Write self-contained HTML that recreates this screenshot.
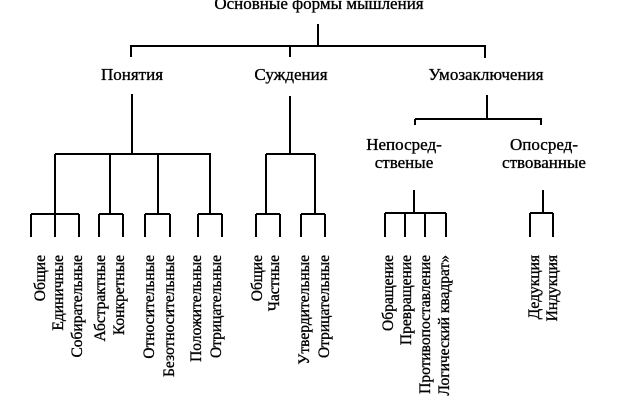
<!DOCTYPE html>
<html><head><meta charset="utf-8"><style>
html,body{margin:0;padding:0;background:#fff;}
svg{display:block;}
text{font-family:"Liberation Serif",serif;fill:#000;stroke:#000;stroke-width:0.35;}
</style></head><body>
<svg width="621" height="400" viewBox="0 0 621 400" xmlns="http://www.w3.org/2000/svg">
<g stroke="#000" stroke-width="2" fill="none">
<line x1="318" y1="24" x2="318" y2="46"/>
<line x1="130" y1="46" x2="486" y2="46"/>
<line x1="131" y1="46" x2="131" y2="57"/>
<line x1="290" y1="46" x2="290" y2="57"/>
<line x1="485" y1="46" x2="485" y2="58"/>
<line x1="132" y1="94" x2="132" y2="154"/>
<line x1="55" y1="154" x2="211" y2="154"/>
<line x1="55" y1="154" x2="55" y2="213"/>
<line x1="110" y1="154" x2="110" y2="213"/>
<line x1="158" y1="154" x2="158" y2="213"/>
<line x1="210" y1="154" x2="210" y2="213"/>
<line x1="31" y1="214" x2="79" y2="214"/>
<line x1="31" y1="214" x2="31" y2="237"/>
<line x1="55" y1="213" x2="55" y2="237"/>
<line x1="79" y1="214" x2="79" y2="237"/>
<line x1="99" y1="214" x2="123" y2="214"/>
<line x1="99" y1="214" x2="99" y2="237"/>
<line x1="123" y1="214" x2="123" y2="237"/>
<line x1="145" y1="214" x2="170" y2="214"/>
<line x1="145" y1="214" x2="145" y2="237"/>
<line x1="170" y1="214" x2="170" y2="237"/>
<line x1="198" y1="214" x2="222" y2="214"/>
<line x1="198" y1="214" x2="198" y2="237"/>
<line x1="222" y1="214" x2="222" y2="237"/>
<line x1="290" y1="96" x2="290" y2="154"/>
<line x1="266" y1="154" x2="315" y2="154"/>
<line x1="266" y1="154" x2="266" y2="213"/>
<line x1="315" y1="154" x2="315" y2="213"/>
<line x1="256" y1="214" x2="280" y2="214"/>
<line x1="256" y1="214" x2="256" y2="237"/>
<line x1="280" y1="214" x2="280" y2="237"/>
<line x1="301" y1="214" x2="325" y2="214"/>
<line x1="301" y1="214" x2="301" y2="237"/>
<line x1="325" y1="214" x2="325" y2="237"/>
<line x1="487" y1="95" x2="487" y2="119"/>
<line x1="415" y1="119" x2="542" y2="119"/>
<line x1="415" y1="119" x2="415" y2="125"/>
<line x1="541" y1="119" x2="541" y2="125"/>
<line x1="414" y1="190" x2="414" y2="213"/>
<line x1="385" y1="213" x2="446" y2="213"/>
<line x1="385" y1="213" x2="385" y2="237"/>
<line x1="405" y1="213" x2="405" y2="237"/>
<line x1="425" y1="213" x2="425" y2="237"/>
<line x1="446" y1="213" x2="446" y2="237"/>
<line x1="543" y1="190" x2="543" y2="213"/>
<line x1="530" y1="213" x2="553" y2="213"/>
<line x1="530" y1="213" x2="530" y2="237"/>
<line x1="553" y1="213" x2="553" y2="237"/>
</g>
<g font-size="17" text-anchor="middle">
<text x="319" y="9">Основные формы мышления</text>
<text x="132" y="80">Понятия</text>
<text x="291" y="80">Суждения</text>
<text x="486" y="80">Умозаключения</text>
<text x="404" y="150">Непосред-</text>
<text x="404" y="168">ственые</text>
<text x="544" y="150">Опосред-</text>
<text x="544" y="168">ствованные</text>
</g>
<g font-size="15.5" text-anchor="end">
<text transform="translate(45,255) rotate(-90)">Общие</text>
<text transform="translate(63,255) rotate(-90)">Единичные</text>
<text transform="translate(82,255) rotate(-90)">Собирательные</text>
<text transform="translate(105,255) rotate(-90)">Абстрактные</text>
<text transform="translate(124,255) rotate(-90)">Конкретные</text>
<text transform="translate(154,255) rotate(-90)">Относительные</text>
<text transform="translate(174,255) rotate(-90)">Безотносительные</text>
<text transform="translate(201,255) rotate(-90)">Положительные</text>
<text transform="translate(221,255) rotate(-90)">Отрицательные</text>
<text transform="translate(262,255) rotate(-90)">Общие</text>
<text transform="translate(279,255) rotate(-90)">Частные</text>
<text transform="translate(309,255) rotate(-90)">Утвердительные</text>
<text transform="translate(329,255) rotate(-90)">Отрицательные</text>
<text transform="translate(393,255) rotate(-90)">Обращение</text>
<text transform="translate(411,255) rotate(-90)">Превращение</text>
<text transform="translate(430,255) rotate(-90)">Противопоставление</text>
<text transform="translate(449,255) rotate(-90)">Логический квадрат»</text>
<text transform="translate(539,255) rotate(-90)">Дедукция</text>
<text transform="translate(557,255) rotate(-90)">Индукция</text>
</g>
</svg>
</body></html>
